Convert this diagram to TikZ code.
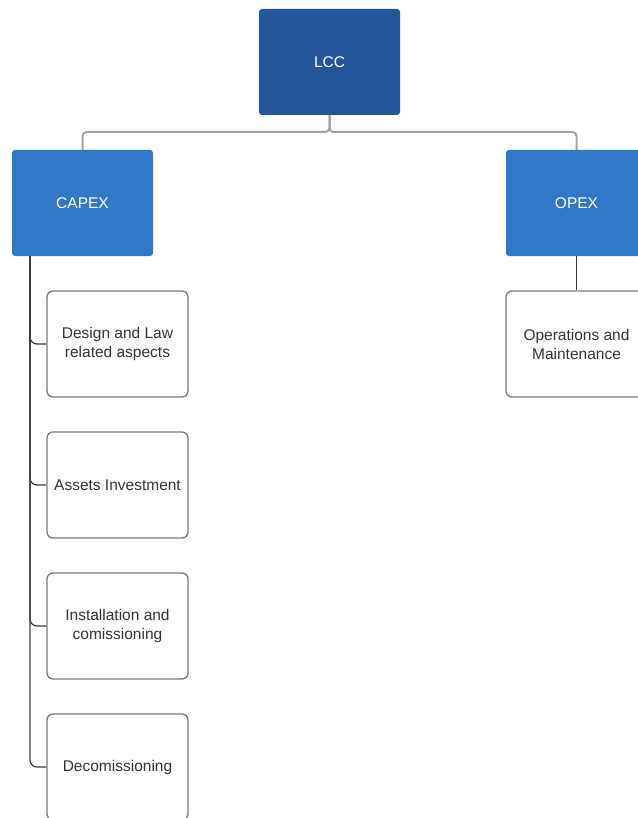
\documentclass[tikz,border=0pt]{standalone}
\usepackage{fontspec}
\setmainfont{Liberation Sans}
\definecolor{lccblue}{HTML}{23579A}
\definecolor{midblue}{HTML}{3178C8}
\definecolor{txtgray}{HTML}{333333}
\definecolor{boxgray}{HTML}{7A7A7A}
\definecolor{topgray}{HTML}{A3A3A3}
\definecolor{lingray}{HTML}{3A3A3A}
\begin{document}
\begin{tikzpicture}[x=1pt,y=-1pt,
  every node/.style={font=\fontsize{15.5}{19}\selectfont, align=center, inner sep=0pt,
    minimum width=141pt, minimum height=106pt},
  bluebox/.style={fill=#1, draw=none, rounded corners=3pt, text=white},
  leafbox/.style={draw=boxgray, line width=1.3pt, rounded corners=6pt, fill=white, text=txtgray},
  topline/.style={draw=topgray, line width=2pt, rounded corners=4pt},
  capline/.style={draw=lingray, line width=1.2pt, rounded corners=7pt},
  opline/.style={draw=lingray, line width=1pt}]
\useasboundingbox (0,0) rectangle (637,818);
\fill[white] (0,0) rectangle (637,818);

\draw[topline] (329.5,115) -- (329.5,132) -| (82.5,150);
\draw[topline] (329.5,115) -- (329.5,132) -| (576.5,150);

\node[bluebox=lccblue] (lcc) at (329.5,62) {LCC};
\node[bluebox=midblue] (capex) at (82.5,203) {CAPEX};
\node[bluebox=midblue] (opex) at (576.5,203) {OPEX};

\node[leafbox] (design) at (117.5,344) {Design and Law\\related aspects};
\node[leafbox] (assets) at (117.5,485) {Assets Investment};
\node[leafbox] (install) at (117.5,626) {Installation and\\comissioning};
\node[leafbox] (decom) at (117.5,767) {Decomissioning};
\node[leafbox] (om) at (576.5,344) {Operations and\\Maintenance};

\coordinate (cl) at (30,256);
\draw[capline] (cl) |- (design.west);
\draw[capline] (cl) |- (assets.west);
\draw[capline] (cl) |- (install.west);
\draw[capline] (cl) |- (decom.west);
\draw[opline] (opex.south) -- (om.north);
\end{tikzpicture}
\end{document}
